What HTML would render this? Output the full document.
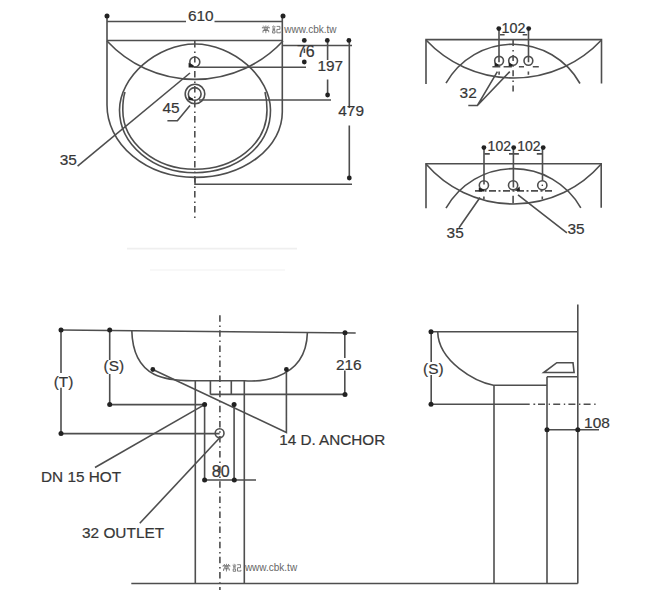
<!DOCTYPE html>
<html><head><meta charset="utf-8"><style>
html,body{margin:0;padding:0;background:#fff;}
body{width:647px;height:601px;overflow:hidden;}
svg{display:block;}
text{font-family:"Liberation Sans",sans-serif;font-size:15.4px;fill:#363636;stroke:#363636;stroke-width:0.2px;}
.wm{font-size:10px;fill:#666;stroke:none;}
</style></head><body>
<svg width="647" height="601" viewBox="0 0 647 601">
<rect width="647" height="601" fill="#fff"/>
<defs><g id="cj" fill="none" stroke="#6a6a6a" stroke-width="0.85">
<path d="M3.85,0 V1.3 M1.4,0.2 L2.1,1.2 M6.3,0.2 L5.6,1.2 M0.4,2.9 V1.8 H7.3 V2.9 M2.1,2.6 H5.6 V4.1 H2.1 Z M1,7.2 V5 H6.7 V6.8 M3.85,4.2 V7.7"/>
<path d="M11.6,0 L12,0.7 M10,1.4 H13.6 M10.5,2.8 H13.1 M10.5,4 H13.1 M10.6,5.2 H13 V7.5 H10.6 Z M14.6,0.9 H17.9 V3.9 H14.9 V7.3 H18.3 V6.1"/>
</g></defs>

<g fill="none" stroke="#4e4e4e" stroke-width="1.6">
<!-- ===== TOP-LEFT PLAN VIEW ===== -->
<path d="M107,16 V105 A88,72.4 0 0 0 195,177.4 A87.3,65.4 0 0 0 282.3,112 V16"/>
<path d="M107,21.5 H186 M214.5,21.5 H283"/>
<path d="M107,40.5 H283"/>
<path d="M107,41 A120,120 0 0 0 283,41"/>
<!-- inner oval -->
<path d="M195,44 C233,44 270.5,77 270.5,110 C270.5,147 236,172.7 195,172.7 C153,172.7 119.5,144.6 119.5,110 C119.5,77 157,44 195,44Z"/>
<!-- inner second line -->
<path d="M125,92 C123,98 122.8,104 122.8,110 C122.8,142.5 155,169.3 195,169.3 C234,169.3 267,144.5 267,110 C267,104 266.5,98 265,92"/>
<!-- centre line -->
<path d="M194.8,41 V219" stroke-dasharray="6.5 4 1.5 3"/>
<path d="M195,177.3 V184.2 H352"/>
<!-- faucet hole -->
<circle cx="194.8" cy="62" r="5"/>
<!-- drain -->
<circle cx="195" cy="94" r="9.8"/>
<circle cx="194.7" cy="94" r="6.4"/>
<!-- dims right -->
<path d="M282.3,45.5 H352 M304.4,48.5 V53"/>
<path d="M195,67.2 H306"/>
<path d="M199,100 H331"/>
<path d="M327.6,40.4 V60 M327.6,79.6 V95"/>
<path d="M349.3,40.4 V108 M349.3,125.6 V178"/>
<!-- leaders -->
<path d="M77.6,166.2 L190,73"/>
<path d="M167.4,120.7 H177.4 L190,105.5"/>
</g>
<g fill="#222">
<circle cx="107" cy="16" r="2.5"/><circle cx="283" cy="16" r="2.5"/>
<circle cx="304.3" cy="40.4" r="2.4"/><circle cx="327.3" cy="40.4" r="2.4"/><circle cx="348.9" cy="40.4" r="2.4"/>
<circle cx="304.3" cy="62" r="2.4"/><circle cx="327.6" cy="95" r="2.4"/><circle cx="349.3" cy="178" r="2.4"/>
<path d="M188.6,62.8 L193.6,65.2 V67.6 H188.6Z M188.4,96.4 L193,98.4 V100.2 H188.4Z"/>
</g>
<text x="188" y="21">610</text>
<text x="296.8" y="57.3" style="font-size:16px">76</text>
<text x="317.5" y="71">197</text>
<text x="338.3" y="115.8">479</text>
<text x="162.5" y="112.9">45</text>
<text x="59.8" y="165.4">35</text>
<use href="#cj" x="262" y="25.5"/>
<text class="wm" x="284.3" y="33.3">www.cbk.tw</text>

<!-- ===== TOP-RIGHT VIEW 1 ===== -->
<g fill="none" stroke="#4e4e4e" stroke-width="1.6">
<path d="M426,84 V39.6 H601.5 V83.5"/>
<path d="M426,40 A120.3,120.3 0 0 0 601.5,40"/>
<path d="M446,83.2 A76.9,76.9 0 0 1 580,83.5"/>
<path d="M513.1,39.9 V91.5" stroke-dasharray="6 4.2 1.5 3.5"/>
<path d="M499,28.6 V62.3 M528.5,28.6 V62.3"/>
<path d="M500,34.8 H504.6 M522.7,34.8 H527.3"/>
<circle cx="499.1" cy="60.8" r="4.4"/><circle cx="513.1" cy="60.8" r="4.4"/><circle cx="528.4" cy="60.8" r="4.4"/>
<path d="M492.4,66.8 H500.3 M503.6,66.8 H511.9 M518.9,66.8 H524 M532.8,66.8 H538.8"/>
<path d="M499.1,71.4 V74.7 M528.4,71.4 V74.7"/>
<path d="M468.3,105.5 H477.4 L497.4,71.6 M477.4,105.5 L509.8,71.6"/>
</g>
<g fill="#222">
<circle cx="498.8" cy="28.6" r="2.4"/><circle cx="528.7" cy="28.6" r="2.4"/>
<path d="M494.6,62.4 L498.4,64.4 V66.2 H494.6Z M508.7,62.4 L512.5,64.4 V66.2 H508.7Z"/>
</g>
<text x="501.5" y="33.1" style="font-size:14.3px">102</text>
<text x="459.6" y="98.2">32</text>

<!-- ===== TOP-RIGHT VIEW 2 ===== -->
<g fill="none" stroke="#4e4e4e" stroke-width="1.6">
<path d="M426,208.2 V163.8 H601.2 V207.8"/>
<path d="M426,164 A116,116 0 0 0 601.2,164"/>
<path d="M446,208.2 A77.4,77.4 0 0 1 580.8,207.8"/>
<path d="M484,147.6 V184.6 M513.4,147.6 V187.4 M542.5,147.6 V180.7"/>
<path d="M484.3,153.9 H489.8 M509,153.9 H518.9 M536.8,153.9 H543"/>
<circle cx="483.9" cy="185.3" r="4.6"/><circle cx="513.1" cy="185.3" r="4.6"/><circle cx="542.3" cy="185.3" r="4.6"/>
<path d="M475,190.9 H552.3" stroke-dasharray="7 2.5 2 2.5"/>
<path d="M483.9,196.4 V199.2 M513.1,195.7 V203.4 M542.3,196.4 V199.2"/>
<path d="M480,197.5 L459,227.8 M518,194.9 L566.9,232.8"/>
</g>
<g fill="#222">
<circle cx="483.9" cy="147.6" r="2.4"/><circle cx="513.7" cy="147.6" r="2.4"/><circle cx="543.2" cy="147.6" r="2.4"/>
<path d="M478.8,187.6 L484,189.8 V191.6 H478.8Z M514.8,190.8 L519.6,186.4 L520,191 Z"/><circle cx="542.3" cy="185.3" r="0.8"/>
</g>
<text x="487.6" y="151.1" style="font-size:14px">102</text>
<text x="517.2" y="151.1" style="font-size:14px">102</text>
<text x="446.6" y="237.8">35</text>
<text x="567.5" y="234.2">35</text>

<path d="M127,248.6 H297" stroke="#efefef" stroke-width="1.6" fill="none"/>
<path d="M150,270 H285" stroke="#f6f6f6" stroke-width="1.4" fill="none"/>
<!-- ===== BOTTOM-LEFT FRONT VIEW ===== -->
<g fill="none" stroke="#4e4e4e" stroke-width="1.6">
<path d="M61,330 L355.7,333"/>
<path d="M61,330 V373 M61,387.8 V433.6 H219.6"/>
<path d="M109.7,330 V360 M109.7,374 V404.6 H204.6"/>
<path d="M131.8,330.5 C133,380 169,381 194.8,380.7 H244.3 C248,381 306,386 307.4,332.6"/>
<path d="M195.3,380.6 V583.5 M244.3,380.6 V583.5"/>
<path d="M210.4,380.6 V394.6 M231.3,380.6 V394.6 M210.4,394.4 H344.8 V370.6 M344.8,358.1 V332.8"/>
<path d="M204.6,404.6 V480 M234.1,404.6 V480 M204.6,480 H256"/>
<path d="M219.9,315.2 V590" stroke-dasharray="6.5 3.8 1.5 3.3"/>
<circle cx="219.6" cy="433.2" r="4.4"/>
<path d="M286.4,369.5 V432.5 L152.8,369.5"/>
<path d="M95,467.5 L204.6,404.6"/>
<path d="M139.8,523.3 L219.5,438"/>
<path d="M131.3,583.5 H577.8"/>
</g>
<g fill="#222">
<circle cx="61" cy="330" r="2.5"/><circle cx="109.7" cy="330" r="2.5"/>
<circle cx="61" cy="433.6" r="2.5"/><circle cx="109.7" cy="404.5" r="2.5"/>
<circle cx="152.8" cy="369.5" r="2.4"/><circle cx="286.4" cy="369.5" r="2.4"/>
<circle cx="345" cy="332.8" r="2.5"/><circle cx="345" cy="394.4" r="2.5"/>
<circle cx="204.6" cy="404.6" r="2.5"/><circle cx="234.1" cy="404.6" r="2.5"/>
<circle cx="204.6" cy="480" r="2.5"/><circle cx="234.3" cy="480" r="2.5"/>
</g>
<text x="53.7" y="386.5">(T)</text>
<text x="103.5" y="371.3">(S)</text>
<text x="335.9" y="370.2">216</text>
<text x="279.2" y="445" textLength="106" lengthAdjust="spacingAndGlyphs">14 D. ANCHOR</text>
<text x="41" y="482.2" textLength="80" lengthAdjust="spacingAndGlyphs">DN 15 HOT</text>
<text x="82" y="537.8">32 OUTLET</text>
<text x="211.8" y="476.6" style="font-size:16px">80</text>
<use href="#cj" x="222.6" y="563.8"/>
<text class="wm" x="244.9" y="571">www.cbk.tw</text>

<!-- ===== BOTTOM-RIGHT SIDE VIEW ===== -->
<g fill="none" stroke="#4e4e4e" stroke-width="1.6">
<path d="M577.8,304.6 V583.5"/>
<path d="M431,331.8 H577.8"/>
<path d="M431.2,331.8 V362 M431.2,375 V404.2 H529.7 M533.4,404.2 H535.2"/>
<path d="M538,404.2 H597" stroke-dasharray="7 3.6 1.4 3.2"/>
<path d="M437.7,331.8 C438.5,362 476,382 493.5,385.2 H547"/>
<path d="M494,385.4 V583.5"/>
<path d="M547,376.8 H577.8 M547,376.8 V583.5"/>
<path d="M543.8,372.5 L556.8,362.7 H573 L574.1,372.5 Z"/>
<path d="M547,429.8 H599"/>
</g>
<g fill="#222">
<circle cx="431" cy="331.8" r="2.5"/><circle cx="431" cy="404.2" r="2.5"/>
<circle cx="547" cy="429.8" r="2.5"/><circle cx="577.8" cy="429.8" r="2.5"/>
</g>
<text x="423" y="373.6">(S)</text>
<text x="584.1" y="427.6">108</text>
</svg>
</body></html>
